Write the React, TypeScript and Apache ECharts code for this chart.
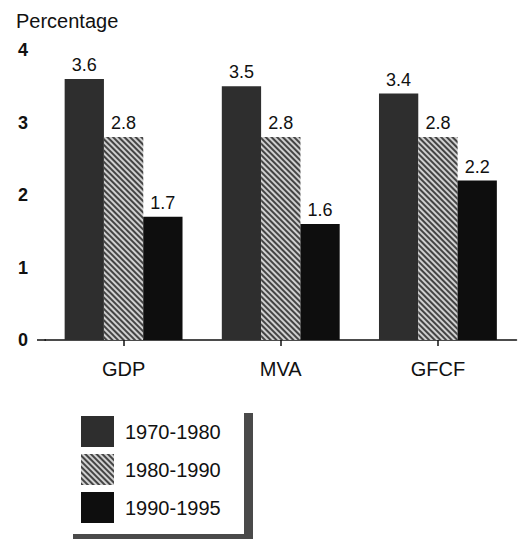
import React, { useEffect, useRef } from "react";
import * as echarts from "echarts";

const categories = ["GDP", "MVA", "GFCF"];
const seriesNames = ["1970-1980", "1980-1990", "1990-1995"];
const values1970 = [3.6, 3.5, 3.4];
const values1980 = [2.8, 2.8, 2.8];
const values1990 = [1.7, 1.6, 2.2];
const yTicks = [0, 1, 2, 3, 4];

const FONT = "Liberation Sans, Arial, sans-serif";

export default function App() {
  const ref = useRef<HTMLDivElement>(null);
  useEffect(() => {
    if (!ref.current) return;
    const chart = echarts.init(ref.current, undefined, { renderer: "svg" });
    const label = {
      show: true,
      position: "top" as const,
      distance: 5,
      color: "#111",
      fontSize: 18,
      fontFamily: FONT,
    };
    chart.setOption({
      animation: false,
      backgroundColor: "#ffffff",
      textStyle: { fontFamily: FONT },
      title: {
        text: "Percentage",
        left: 16,
        top: 11,
        padding: 0,
        textStyle: { fontSize: 20, fontWeight: "normal", color: "#111", fontFamily: FONT },
      },
      grid: { left: 45, right: 1.5, top: 50, bottom: 199, containLabel: false },
      legend: {
        orient: "vertical",
        left: 81,
        top: 416,
        padding: 0,
        itemWidth: 33,
        itemHeight: 31,
        itemGap: 7,
        icon: "rect",
        data: seriesNames,
        textStyle: { fontSize: 20, color: "#111", fontFamily: FONT, padding: [0, 0, 0, 6] },
      },
      xAxis: {
        type: "category",
        data: categories,
        axisLine: { show: true, lineStyle: { color: "#111", width: 1.5 } },
        axisTick: { show: true, alignWithLabel: true, length: 6, lineStyle: { color: "#111", width: 1.5 } },
        axisLabel: { color: "#111", fontSize: 20, margin: 19, fontFamily: FONT },
      },
      yAxis: {
        type: "value",
        min: yTicks[0],
        max: yTicks[yTicks.length - 1],
        interval: 1,
        axisLine: { show: false },
        axisTick: { show: false },
        splitLine: { show: false },
        axisLabel: { color: "#111", fontSize: 18, fontWeight: "bold", margin: 17, fontFamily: FONT },
      },
      graphic: [
        { type: "line", shape: { x1: 37, y1: 340, x2: 46, y2: 340 }, style: { stroke: "#111", lineWidth: 1.5 } },
        { type: "rect", shape: { x: 244, y: 413, width: 9, height: 126 }, style: { fill: "#4a4a4a" } },
        { type: "rect", shape: { x: 73, y: 534, width: 180, height: 5 }, style: { fill: "#4a4a4a" } },
      ],
      series: [
        {
          name: seriesNames[0],
          type: "bar",
          data: values1970,
          barGap: "0%",
          barCategoryGap: "25%",
          itemStyle: { color: "#2e2e2e" },
          label,
        },
        {
          name: seriesNames[1],
          type: "bar",
          data: values1980,
          itemStyle: {
            color: "#d0d0d0",
            decal: {
              symbol: "rect",
              color: "#444",
              dashArrayX: [1, 0],
              dashArrayY: [1.5, 1.5],
              rotation: Math.PI / 4,
              symbolSize: 1,
            },
          },
          label,
        },
        {
          name: seriesNames[2],
          type: "bar",
          data: values1990,
          itemStyle: { color: "#0e0e0e" },
          label,
        },
      ],
    });
    return () => chart.dispose();
  }, []);
  return <div ref={ref} style={{ width: 518, height: 539, position: "absolute", left: 0, top: 0 }} />;
}
